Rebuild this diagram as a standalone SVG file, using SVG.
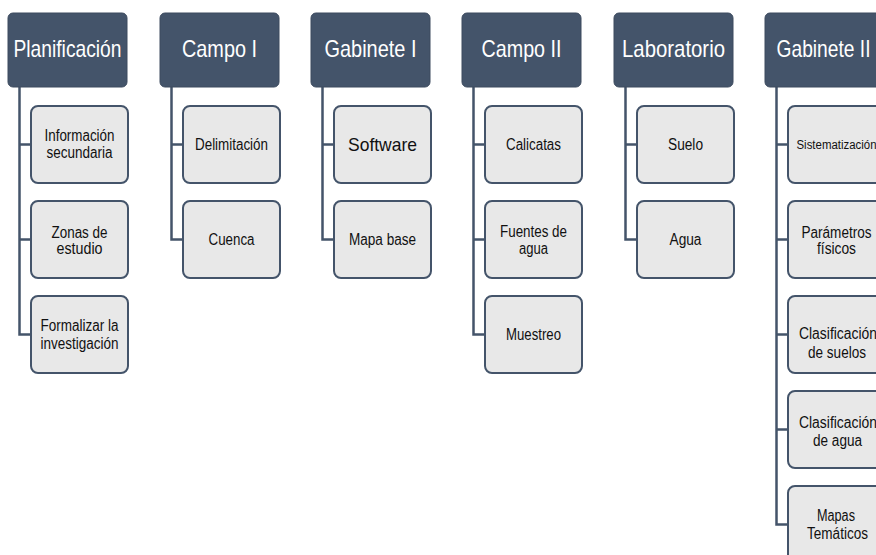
<svg xmlns="http://www.w3.org/2000/svg" width="876" height="555" viewBox="0 0 876 555">
<defs>
<style>
.hd{fill:#44546a;stroke:#3d4b5f;stroke-width:1}
.ch{fill:#e8e8e8;stroke:#44546a;stroke-width:2}
.ht{font-family:"Liberation Sans",Arial,sans-serif;font-size:24px;fill:#ffffff;text-anchor:middle}
.ct{font-family:"Liberation Sans",Arial,sans-serif;font-size:16px;fill:#111111;text-anchor:middle}
.cn{fill:none;stroke:#44546a;stroke-width:2.5}
</style>
</defs>
<rect width="876" height="555" fill="#ffffff"/>
<g id="connectors">
<path class="cn" d="M19.5 87 V144.5 H31 M19.5 239.5 H31 M19.5 144.5 V334.5 H31"/>
<path class="cn" d="M171.5 87 V239.5 H183 M171.5 144.5 H183"/>
<path class="cn" d="M322.5 87 V239.5 H334 M322.5 144.5 H334"/>
<path class="cn" d="M473.5 87 V334.5 H485 M473.5 144.5 H485 M473.5 239.5 H485"/>
<path class="cn" d="M625.5 87 V239.5 H637 M625.5 144.5 H637"/>
<path class="cn" d="M776.5 87 V524.5 H788 M776.5 144.5 H788 M776.5 239.5 H788 M776.5 334.5 H788 M776.5 429.5 H788"/>
</g>
<g id="planificacion">
<rect class="hd" x="8" y="13" width="119" height="74" rx="5"/>
<text class="ht" x="67.5" y="57" textLength="108" lengthAdjust="spacingAndGlyphs">Planificación</text>
</g>
<g id="campo1">
<rect class="hd" x="160" y="13" width="119" height="74" rx="5"/>
<text class="ht" x="219.5" y="57" textLength="75" lengthAdjust="spacingAndGlyphs">Campo I</text>
</g>
<g id="gabinete1">
<rect class="hd" x="311" y="13" width="119" height="74" rx="5"/>
<text class="ht" x="370.5" y="57" textLength="92" lengthAdjust="spacingAndGlyphs">Gabinete I</text>
</g>
<g id="campo2">
<rect class="hd" x="462" y="13" width="119" height="74" rx="5"/>
<text class="ht" x="521.5" y="57" textLength="80" lengthAdjust="spacingAndGlyphs">Campo II</text>
</g>
<g id="laboratorio">
<rect class="hd" x="614" y="13" width="119" height="74" rx="5"/>
<text class="ht" x="673.5" y="57" textLength="103" lengthAdjust="spacingAndGlyphs">Laboratorio</text>
</g>
<g id="gabinete2">
<rect class="hd" x="765" y="13" width="119" height="74" rx="5"/>
<text class="ht" x="823.5" y="57" textLength="94" lengthAdjust="spacingAndGlyphs">Gabinete II</text>
</g>

<g id="informacion">
<rect class="ch" x="31" y="106" width="97" height="77" rx="7"/>
<text class="ct" x="79.5" y="141" textLength="70" lengthAdjust="spacingAndGlyphs">Información</text>
<text class="ct" x="79.5" y="158" textLength="66" lengthAdjust="spacingAndGlyphs">secundaria</text>
</g>
<g id="zonas">
<rect class="ch" x="31" y="201" width="97" height="77" rx="7"/>
<text class="ct" x="79.5" y="237.5" textLength="56" lengthAdjust="spacingAndGlyphs">Zonas de</text>
<text class="ct" x="79.5" y="254" textLength="46" lengthAdjust="spacingAndGlyphs">estudio</text>
</g>
<g id="formalizar">
<rect class="ch" x="31" y="296" width="97" height="77" rx="7"/>
<text class="ct" x="79.5" y="331" textLength="78" lengthAdjust="spacingAndGlyphs">Formalizar la</text>
<text class="ct" x="79.5" y="349" textLength="78" lengthAdjust="spacingAndGlyphs">investigación</text>
</g>

<g id="delimitacion">
<rect class="ch" x="183" y="106" width="97" height="77" rx="7"/>
<text class="ct" x="231.5" y="150" textLength="73" lengthAdjust="spacingAndGlyphs">Delimitación</text>
</g>
<g id="cuenca">
<rect class="ch" x="183" y="201" width="97" height="77" rx="7"/>
<text class="ct" x="231.5" y="244.5" textLength="46" lengthAdjust="spacingAndGlyphs">Cuenca</text>
</g>

<g id="software">
<rect class="ch" x="334" y="106" width="97" height="77" rx="7"/>
<text class="ct" x="382.5" y="151" style="font-size:19px" textLength="69" lengthAdjust="spacingAndGlyphs">Software</text>
</g>
<g id="mapabase">
<rect class="ch" x="334" y="201" width="97" height="77" rx="7"/>
<text class="ct" x="382.5" y="244.5" textLength="67" lengthAdjust="spacingAndGlyphs">Mapa base</text>
</g>

<g id="calicatas">
<rect class="ch" x="485" y="106" width="97" height="77" rx="7"/>
<text class="ct" x="533.5" y="150" textLength="55" lengthAdjust="spacingAndGlyphs">Calicatas</text>
</g>
<g id="fuentes">
<rect class="ch" x="485" y="201" width="97" height="77" rx="7"/>
<text class="ct" x="533.5" y="237" textLength="67" lengthAdjust="spacingAndGlyphs">Fuentes de</text>
<text class="ct" x="533.5" y="254" textLength="29" lengthAdjust="spacingAndGlyphs">agua</text>
</g>
<g id="muestreo">
<rect class="ch" x="485" y="296" width="97" height="77" rx="7"/>
<text class="ct" x="533.5" y="340" textLength="55" lengthAdjust="spacingAndGlyphs">Muestreo</text>
</g>

<g id="suelo">
<rect class="ch" x="637" y="106" width="97" height="77" rx="7"/>
<text class="ct" x="685.5" y="150" textLength="35" lengthAdjust="spacingAndGlyphs">Suelo</text>
</g>
<g id="agua">
<rect class="ch" x="637" y="201" width="97" height="77" rx="7"/>
<text class="ct" x="685.5" y="244.5" textLength="32" lengthAdjust="spacingAndGlyphs">Agua</text>
</g>

<g id="sistematizacion">
<rect class="ch" x="788" y="106" width="97" height="77" rx="7"/>
<text class="ct" x="836.5" y="148.5" style="font-size:12.5px" textLength="80" lengthAdjust="spacingAndGlyphs">Sistematización</text>
</g>
<g id="parametros">
<rect class="ch" x="788" y="201" width="97" height="77" rx="7"/>
<text class="ct" x="836.5" y="237.5" textLength="70" lengthAdjust="spacingAndGlyphs">Parámetros</text>
<text class="ct" x="836.5" y="254" textLength="39" lengthAdjust="spacingAndGlyphs">físicos</text>
</g>
<g id="clasif-suelos">
<rect class="ch" x="788" y="296" width="97" height="77" rx="7"/>
<text class="ct" x="838" y="339" textLength="78" lengthAdjust="spacingAndGlyphs">Clasificación</text>
<text class="ct" x="837" y="357.5" textLength="58" lengthAdjust="spacingAndGlyphs">de suelos</text>
</g>
<g id="clasif-agua">
<rect class="ch" x="788" y="391" width="97" height="77" rx="7"/>
<text class="ct" x="838" y="428" textLength="78" lengthAdjust="spacingAndGlyphs">Clasificación</text>
<text class="ct" x="837.5" y="446" textLength="49" lengthAdjust="spacingAndGlyphs">de agua</text>
</g>
<g id="mapas">
<rect class="ch" x="788" y="486" width="97" height="77" rx="7"/>
<text class="ct" x="836" y="521" textLength="38" lengthAdjust="spacingAndGlyphs">Mapas</text>
<text class="ct" x="837.5" y="539" textLength="61" lengthAdjust="spacingAndGlyphs">Temáticos</text>
</g>
</svg>
